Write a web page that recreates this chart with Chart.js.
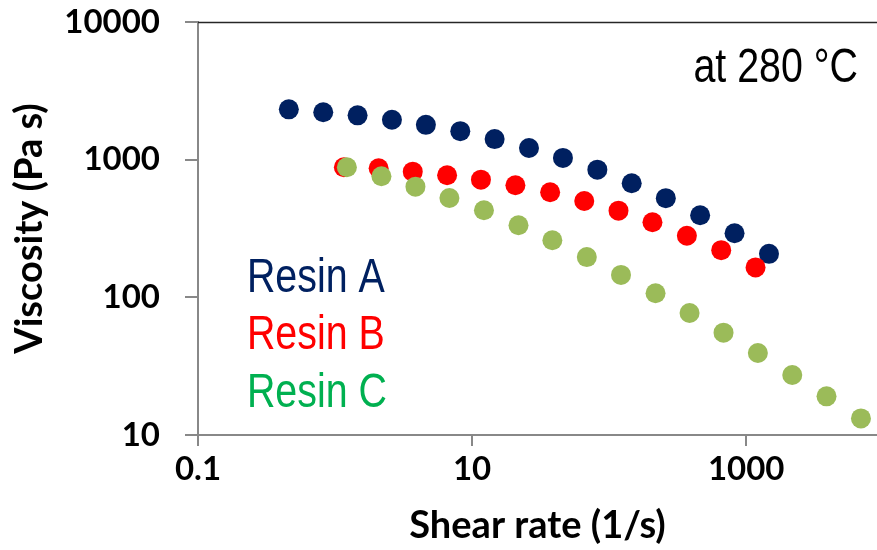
<!DOCTYPE html>
<html>
<head>
<meta charset="utf-8">
<script src="https://cdn.jsdelivr.net/npm/chart.js@4.4.1/dist/chart.umd.min.js"></script>
<style>
  html, body { margin: 0; padding: 0; background: #fff; }
</style>
</head>
<body>
<canvas id="viscosity_chart" width="877" height="550"></canvas>
<script>
// Flow curves at 280 °C, shear rate (1/s) vs viscosity (Pa s)
const seriesNames = ["Resin A", "Resin B", "Resin C"];
const pointColors = ["#002060", "#FF0000", "#9BBB59"];
const labelColors = ["#002060", "#FF0000", "#00B050"];

const rateA = [0.46, 0.82, 1.46, 2.6, 4.6, 8.2, 14.6, 26, 46, 82, 146, 259, 461, 822, 1466];
const viscA = [2320, 2210, 2100, 1950, 1790, 1610, 1410, 1215, 1030, 846, 674, 525, 395, 292, 207];

const rateB = [1.16, 2.08, 3.69, 6.57, 11.6, 20.7, 37.1, 65.8, 117, 207, 369, 657, 1170];
const viscB = [881, 866, 818, 771, 716, 652, 580, 501, 426, 351, 280, 220, 165];

const rateC = [1.22, 2.18, 3.86, 6.83, 12.2, 21.8, 38.5, 68.7, 122, 218, 386, 683, 1216, 2168, 3855, 6873];
const viscC = [881, 758, 637, 527, 429, 334, 260, 196, 145.5, 107, 77, 55.4, 39.4, 27.3, 19.1, 13.2];

const xTicks = [0.1, 10, 1000];
const yTicks = [10, 100, 1000, 10000];
const tempLabel = "at 280 °C";

function toPoints(xs, ys) {
  return xs.map((x, i) => ({ x: x, y: ys[i] }));
}

const tickFont = { family: "Lato", weight: "bold", size: 33 };
const titleFont = { family: "Lato", weight: "bold", size: 38 };
const narrowFont = '48px "Liberation Sans", Arial, sans-serif';

// draw text squeezed horizontally, to look like a narrow face
function narrowText(ctx, text, x, y, align) {
  ctx.save();
  ctx.translate(x, y);
  ctx.scale(0.82, 1);
  ctx.textAlign = align;
  ctx.fillText(text, 0, 0);
  ctx.restore();
}

// Top frame line plus the in-plot text (temperature and series names)
const notesPlugin = {
  id: "notes",
  afterDatasetsDraw(chart) {
    const ctx = chart.ctx;
    const a = chart.chartArea;
    const w = a.right - a.left;
    const h = a.bottom - a.top;
    ctx.save();
    ctx.strokeStyle = "#262626";
    ctx.lineWidth = 1.5;
    ctx.beginPath();
    ctx.moveTo(a.left, a.top + 0.5);
    ctx.lineTo(a.right, a.top + 0.5);
    ctx.stroke();

    ctx.font = narrowFont;
    ctx.textBaseline = "alphabetic";
    ctx.fillStyle = "#000";
    narrowText(ctx, tempLabel, a.left + w * 0.972, a.top + h * 0.145, "right");

    const rows = [0.654, 0.792, 0.932];
    seriesNames.forEach((name, i) => {
      ctx.fillStyle = labelColors[i];
      narrowText(ctx, name, a.left + w * 0.072, a.top + h * rows[i], "left");
    });
    ctx.restore();
  }
};

const allRates = [rateA, rateB, rateC];
const allVisc = [viscA, viscB, viscC];

const datasets = seriesNames.map((name, i) => ({
  label: name,
  data: toPoints(allRates[i], allVisc[i]),
  backgroundColor: pointColors[i],
  borderWidth: 0,
  pointRadius: 10,
  pointHoverRadius: 10,
  showLine: false,
  order: 3 - i
}));

const ctx = document.querySelector("#viscosity_chart").getContext("2d");

const chart = new Chart(ctx, {
  type: "scatter",
  data: { datasets: datasets },
  plugins: [notesPlugin],
  options: {
    responsive: false,
    animation: false,
    events: [],
    layout: { padding: { top: 22, left: 0, right: 0, bottom: 0 }, autoPadding: false },
    plugins: { legend: { display: false }, tooltip: { enabled: false } },
    scales: {
      x: {
        type: "logarithmic",
        min: 0.1,
        max: 9000,
        afterBuildTicks(scale) { scale.ticks = xTicks.map(v => ({ value: v })); },
        afterFit(scale) { scale.height = 115; },
        ticks: {
          color: "#000",
          font: tickFont,
          padding: 4,
          maxRotation: 0,
          autoSkip: false,
          callback: v => String(v)
        },
        grid: { display: true, drawOnChartArea: false, drawTicks: true, tickLength: 11, color: "#888", lineWidth: 2 },
        border: { display: true, color: "#888", width: 2 },
        title: {
          display: true,
          text: "Shear rate (1/s)",
          color: "#000",
          font: titleFont,
          padding: { top: 0, bottom: 1 }
        }
      },
      y: {
        type: "logarithmic",
        min: 10,
        max: 10000,
        afterBuildTicks(scale) { scale.ticks = yTicks.map(v => ({ value: v })); },
        afterFit(scale) {
          scale.width = 198;
          scale.paddingTop = 0;
          scale.paddingBottom = 0;
        },
        ticks: {
          color: "#000",
          font: tickFont,
          padding: 25,
          autoSkip: false,
          callback: v => String(v)
        },
        grid: { display: true, drawOnChartArea: false, drawTicks: true, tickLength: 13, color: "#888", lineWidth: 2 },
        border: { display: true, color: "#888", width: 2 },
        title: {
          display: true,
          text: "Viscosity (Pa s)",
          color: "#000",
          font: titleFont,
          padding: { top: 7, bottom: 0 }
        }
      }
    }
  }
});
</script>
</body>
</html>
